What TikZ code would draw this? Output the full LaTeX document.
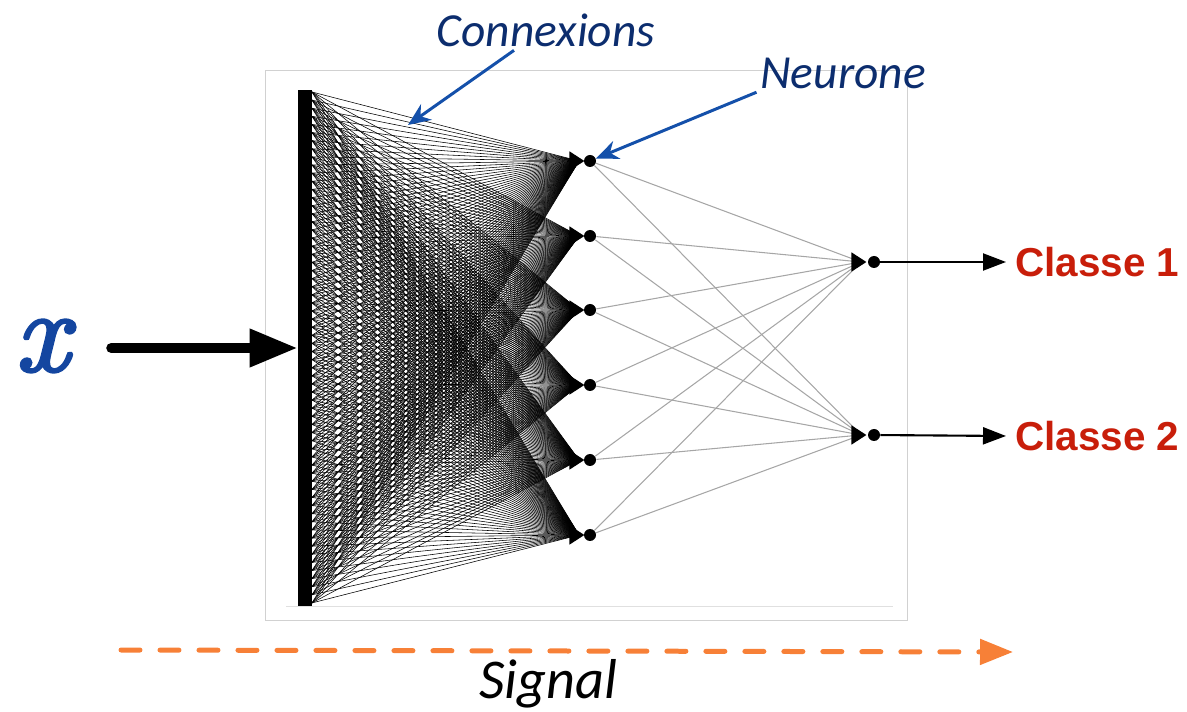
\documentclass[tikz,border=0pt]{standalone}
\usepackage{fontspec}
\usepackage{tikz}
\usetikzlibrary{arrows.meta,positioning,shapes.geometric}
\newfontfamily\notefont{Carlito}
\newfontfamily\classfont{Liberation Sans}
\newfontfamily\varfont[FakeBold=2.5]{lmroman10-italic.otf}
\definecolor{navyText}{RGB}{12, 45, 110}
\definecolor{pointerBlue}{RGB}{20, 80, 170}
\definecolor{classRed}{RGB}{200, 30, 10}
\definecolor{signalOrange}{RGB}{247, 128, 55}
\definecolor{xBlue}{RGB}{20, 70, 160}

\begin{document}
\begin{tikzpicture}[
        x=0.02cm, y=-0.02cm,
        neuron/.style={circle, fill=black, inner sep=0pt, minimum size=0.24cm},
        nib/.style={isosceles triangle, isosceles triangle apex angle=66, fill=black, inner sep=0pt, minimum height=0.3cm, anchor=apex},
        link/.style={black, line width=0.32pt},
        outlink/.style={gray!70, line width=0.6pt},
        pointer/.style={-{Stealth[length=0.45cm, width=0.38cm]}, line width=1.7pt, pointerBlue},
        note/.style={font=\notefont\itshape\fontsize{27}{31}\selectfont, text=navyText, inner sep=2pt},
        classe/.style={font=\classfont\bfseries\fontsize{23}{27}\selectfont, text=classRed, anchor=west, inner sep=0pt},
        signal/.style={-{Triangle[length=0.66cm, width=0.5cm]}, signalOrange, line width=0.1cm, line cap=round, dash pattern=on 0.38cm off 0.4cm}
    ]
        \useasboundingbox (0,0) rectangle (1187,712);

        % Frame
        \draw[black!18] (265,70) rectangle (907,620);
        \draw[black!12] (286,606) -- (893,606);

        % Input layer
        \node[fill=black, inner sep=0pt, minimum width=0.28cm, minimum height=10.32cm] (bar) at (305,348) {};
        \foreach \i in {0,...,63}
            \coordinate (in\i) at (312,{92+\i*8.11});

        % Hidden layer
        \foreach \j/\y in {1/161,2/236,3/310,4/385,5/460,6/535}
            \coordinate (hp\j) at (579,\y);
        \foreach \i in {0,...,63}
            \foreach \j in {1,...,6}
                \draw[link] (in\i) -- (hp\j);
        \foreach \j/\y in {1/161,2/236,3/310,4/385,5/460,6/535} {
            \node[nib] (hn\j) at (585,\y) {};
            \node[neuron] (h\j) at (590,\y) {};
        }

        % Output layer
        \foreach \k/\y in {1/262,2/435}
            \coordinate (op\k) at (861,\y);
        \foreach \j in {1,...,6}
            \foreach \k in {1,2}
                \draw[outlink] (h\j) -- (op\k);
        \foreach \k/\y in {1/262,2/435} {
            \node[nib] (on\k) at (867,\y) {};
            \node[neuron] (o\k) at (874,\y) {};
        }

        % Classes
        \node[classe] (c1) at (1015,262) {Classe 1};
        \node[classe] (c2) at (1015,436) {Classe 2};
        \draw[-{Triangle[length=0.46cm, width=0.34cm]}, line width=1.2pt] (o1) -- ([xshift=-0.18cm]c1.west);
        \draw[-{Triangle[length=0.46cm, width=0.34cm]}, line width=1.2pt] (o2) -- ([xshift=-0.18cm]c2.west);

        % Input
        \node[font=\varfont\fontsize{66}{70}\selectfont, text=xBlue, inner sep=0pt] (x) at (42,346) {x};
        \draw[line width=5.7pt, line cap=round, shorten <=0.84cm, -{Triangle[length=0.96cm, width=0.72cm]}] (x.east |- bar.west) -- (bar.west);

        % Annotations
        \node[note] (con) at (546,30) {Connexions};
        \coordinate (cpt) at (408,125);
        \draw[pointer] ([xshift=-0.64cm]con.south) -- (cpt);
        \node[note] (neu) at (843,73) {Neurone};
        \draw[pointer] (neu.south west) -- (h1);

        % Signal
        \coordinate (s0) at (121,650);
        \coordinate (s1) at (1013,652);
        \draw[signal] (s0) -- (s1);
        \node[font=\notefont\itshape\fontsize{32}{36}\selectfont, inner sep=0pt] (sig) at (548,684) {Signal};

    \end{tikzpicture}
\end{document}
